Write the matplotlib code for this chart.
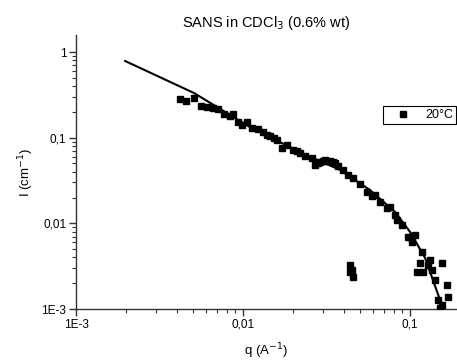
import matplotlib
matplotlib.use("Agg")
import matplotlib.pyplot as plt
from matplotlib.ticker import LogLocator, NullFormatter

plt.rcParams['font.family'] = ['Liberation Sans', 'DejaVu Sans']

# measured data (20 °C)
q_data = [0.00420, 0.00456, 0.00509, 0.00560, 0.00609, 0.00661, 0.00709, 0.00769,
          0.00836, 0.00871, 0.00933, 0.00986, 0.01057, 0.01132, 0.01230, 0.01318,
          0.01392, 0.01451, 0.01530, 0.01598, 0.01712, 0.01834, 0.01993, 0.02100,
          0.02194, 0.02351, 0.02590, 0.02698, 0.02800, 0.02891, 0.03000, 0.03097,
          0.03200, 0.03319, 0.03450, 0.03556, 0.03707, 0.03971, 0.04254, 0.04558,
          0.05019, 0.05527, 0.05923, 0.06172, 0.06613, 0.07284, 0.07591, 0.08133,
          0.08361, 0.08959, 0.09728, 0.1000, 0.1028, 0.1071, 0.1180, 0.1148,
          0.1318, 0.1282, 0.1101, 0.1196, 0.1354, 0.1554, 0.1412, 0.1666,
          0.1472, 0.1689, 0.1554, 0.1512,
          0.04373, 0.04495, 0.04373, 0.04558]
I_data = [0.2829, 0.2681, 0.2905, 0.2344, 0.2282, 0.2221, 0.2162, 0.1890,
          0.1791, 0.1890, 0.1525, 0.1407, 0.1525, 0.1298, 0.1263, 0.1165,
          0.1075, 0.1046, 0.1000, 0.0940, 0.0758, 0.0822, 0.0719, 0.0700,
          0.0663, 0.0612, 0.0580, 0.0480, 0.0510, 0.0521, 0.0540, 0.0549,
          0.0530, 0.0535, 0.0520, 0.0507, 0.0468, 0.0420, 0.0367, 0.0339,
          0.0288, 0.0232, 0.0209, 0.0214, 0.01777, 0.01512, 0.01553, 0.01253,
          0.01096, 0.00958, 0.00694, 0.00700, 0.00607, 0.00732, 0.00464, 0.00345,
          0.00374, 0.00327, 0.00271, 0.00271, 0.00286, 0.00345, 0.00219, 0.00191,
          0.00128, 0.00138, 0.00112, 0.00103,
          0.00327, 0.00286, 0.00271, 0.00237]

# fitted curve
q_fit = [0.00197, 0.00509, 0.0110, 0.0219, 0.0381, 0.0575, 0.0813, 0.100, 0.123, 0.151, 0.164]
I_fit = [0.785, 0.332, 0.133, 0.068, 0.042, 0.0245, 0.0136, 0.00794, 0.00395, 0.00128, 0.000925]

x_ticks = [1e-3, 1e-2, 1e-1]
x_labels = ['1E-3', '0,01', '0,1']
y_ticks = [1e-3, 1e-2, 1e-1, 1]
y_labels = ['1E-3', '0,01', '0,1', '1']

fig = plt.figure(figsize=(4.57, 3.62), dpi=100)
ax = fig.add_axes([76/457, 1-309/362, 1-76/457, (309-35)/362])

ax.plot(q_fit, I_fit, color='black', lw=1.5, zorder=2)
ax.plot(q_data, I_data, ls='none', marker='s', ms=5.0, color='black', zorder=3, label='20°C')

ax.set_xscale('log')
ax.set_yscale('log')
ax.set_xlim(1e-3, 0.191)
ax.set_ylim(1e-3, 1.58)

ax.set_xticks(x_ticks)
ax.set_xticklabels(x_labels)
ax.set_yticks(y_ticks)
ax.set_yticklabels(y_labels)
ax.xaxis.set_minor_locator(LogLocator(base=10, subs=range(2, 10), numticks=20))
ax.yaxis.set_minor_locator(LogLocator(base=10, subs=range(2, 10), numticks=20))
ax.xaxis.set_minor_formatter(NullFormatter())
ax.yaxis.set_minor_formatter(NullFormatter())

for s in ['top', 'right']:
    ax.spines[s].set_visible(False)
for s in ['left', 'bottom']:
    ax.spines[s].set_linewidth(1.0)
    ax.spines[s].set_color('#333333')
ax.tick_params(which='major', direction='out', length=5, width=1.0, color='#333333', labelsize=8.5, pad=2)
ax.tick_params(which='minor', direction='out', length=3, width=0.8, color='#333333')

ax.set_title('SANS in CDCl$_3$ (0.6% wt)', fontsize=10.5, pad=6)
ax.set_xlabel('q (A$^{-1}$)', fontsize=9.5, labelpad=8)
ax.set_ylabel('I (cm$^{-1}$)', fontsize=9.5, labelpad=4)

leg = fig.legend(loc='upper left', bbox_to_anchor=(383/457, 1-106/362), fontsize=9,
                 frameon=True, fancybox=False, framealpha=1, edgecolor='black',
                 handlelength=2.7, handletextpad=0.4, borderpad=0.25, borderaxespad=0,
                 markerscale=0.9)
leg.get_frame().set_linewidth(0.8)

fig.savefig('out.png', dpi=100)
